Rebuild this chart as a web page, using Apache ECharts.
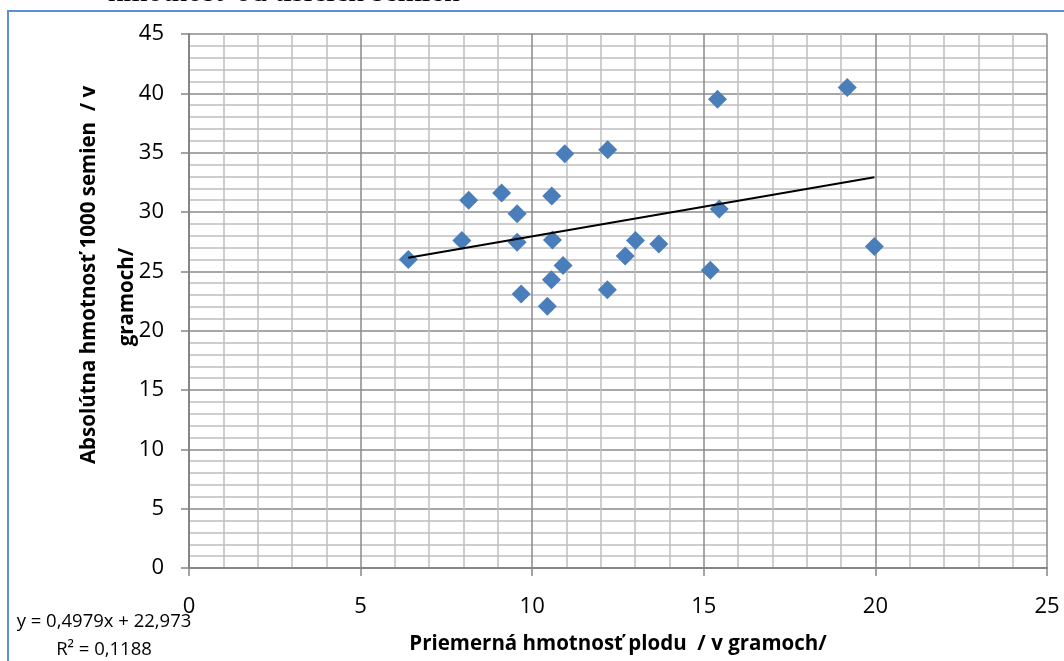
<!DOCTYPE html>
<html>
<head>
<meta charset="utf-8">
<script src="https://cdn.jsdelivr.net/npm/echarts@6/dist/echarts.min.js"></script>
<style>
html,body{margin:0;padding:0;background:#fff;}
#c{width:1064px;height:661px;}
</style>
</head>
<body>
<div id="c"></div>
<script>
// Scatter values
var xValues = [6.39, 7.95, 8.15, 9.11, 9.56, 9.56, 9.68, 10.44, 10.56, 10.57, 10.59, 10.90, 10.95, 12.20, 12.19, 12.71, 13.01, 13.69, 15.19, 15.45, 15.40, 19.18, 19.97];
var yValues = [26.0, 27.6, 31.0, 31.6, 29.85, 27.45, 23.1, 22.05, 24.3, 31.35, 27.65, 25.5, 34.9, 35.25, 23.45, 26.3, 27.6, 27.3, 25.1, 30.25, 39.5, 40.5, 27.1];
// Trend line endpoints (as drawn)
var trendX = [6.39, 19.97];
var trendY = [26.15, 32.92];
// Axis ticks
var xTicks = [0, 5, 10, 15, 20, 25];
var yTicks = [0, 5, 10, 15, 20, 25, 30, 35, 40, 45];
// Texts
var titleTail = 'hmotnosť od tisícich semien';
var xTitle = 'Priemerná hmotnosť plodu  / v gramoch/';
var yTitle1 = 'Absolútna hmotnosť 1000 semien  / v';
var yTitle2 = 'gramoch/';
var eqText = 'y = 0,4979x + 22,973';
var r2Text = 'R² = 0,1188';

var pts = xValues.map(function(x, i){ return [x, yValues[i]]; });
var trend = trendX.map(function(x, i){ return [x, trendY[i]]; });

var FONT = 'Open Sans';
var chart = echarts.init(document.getElementById('c'), null, {renderer:'canvas'});
chart.setOption({
  animation: false,
  backgroundColor: '#ffffff',
  grid: {left: 189, right: 17, top: 34, bottom: 93, containLabel: false},
  xAxis: {
    type: 'value', min: xTicks[0], max: xTicks[xTicks.length-1], interval: 5,
    axisLine: {show: true, onZero: false, lineStyle: {color: '#868686', width: 2}},
    axisTick: {show: true, length: 8, inside: false, lineStyle: {color: '#868686', width: 1.5}},
    minorTick: {show: false, splitNumber: 5},
    splitLine: {show: true, lineStyle: {color: '#8a8a8a', width: 1.5}},
    minorSplitLine: {show: true, lineStyle: {color: '#bebebe', width: 1.5}},
    axisLabel: {show: true, margin: 28, color: '#000', fontFamily: FONT, fontSize: 22},
    name: xTitle, nameLocation: 'middle', nameGap: 66,
    nameTextStyle: {color: '#000', fontFamily: FONT, fontWeight: 'bold', fontSize: 20.5}
  },
  yAxis: {
    type: 'value', min: yTicks[0], max: yTicks[yTicks.length-1], interval: 5,
    axisLine: {show: true, onZero: false, lineStyle: {color: '#868686', width: 2}},
    axisTick: {show: true, length: 8, inside: false, lineStyle: {color: '#868686', width: 1.5}},
    minorTick: {show: false, splitNumber: 5},
    splitLine: {show: true, lineStyle: {color: '#8a8a8a', width: 1.5}},
    minorSplitLine: {show: true, lineStyle: {color: '#bebebe', width: 1.5}},
    axisLabel: {show: true, margin: 25, color: '#000', fontFamily: FONT, fontSize: 22}
  },
  series: [
    {
      type: 'scatter', data: pts, symbol: 'diamond', symbolSize: 19, z: 2,
      itemStyle: {color: '#4a7ebb', opacity: 1}
    },
    {
      type: 'line', data: trend, showSymbol: false, symbol: 'none', z: 3,
      lineStyle: {color: '#000', width: 2}
    }
  ],
  graphic: [
    {type: 'rect', shape: {x: 8, y: 11, width: 1200, height: 800}, silent: true,
     style: {fill: null, stroke: '#5b8fd6', lineWidth: 2}, z: -1},
    {type: 'text', x: 108, y: -7, silent: true,
     style: {text: titleTail, fontFamily: 'Liberation Serif', fontSize: 31, fill: '#000', align: 'left', verticalAlign: 'middle'}},
    {type: 'text', x: 89, y: 275, rotation: Math.PI/2, silent: true,
     style: {text: yTitle1, fontFamily: FONT, fontWeight: 'bold', fontSize: 20.5, fill: '#000', align: 'center', verticalAlign: 'middle'}},
    {type: 'text', x: 127, y: 297, rotation: Math.PI/2, silent: true,
     style: {text: yTitle2, fontFamily: FONT, fontWeight: 'bold', fontSize: 20.5, fill: '#000', align: 'center', verticalAlign: 'middle'}},
    {type: 'text', x: 104, y: 622, silent: true,
     style: {text: eqText, fontFamily: FONT, fontSize: 18.5, fill: '#000', align: 'center', verticalAlign: 'middle'}},
    {type: 'text', x: 104, y: 650, silent: true,
     style: {text: r2Text, fontFamily: FONT, fontSize: 18.5, fill: '#000', align: 'center', verticalAlign: 'middle'}}
  ]
});
</script>
</body>
</html>
